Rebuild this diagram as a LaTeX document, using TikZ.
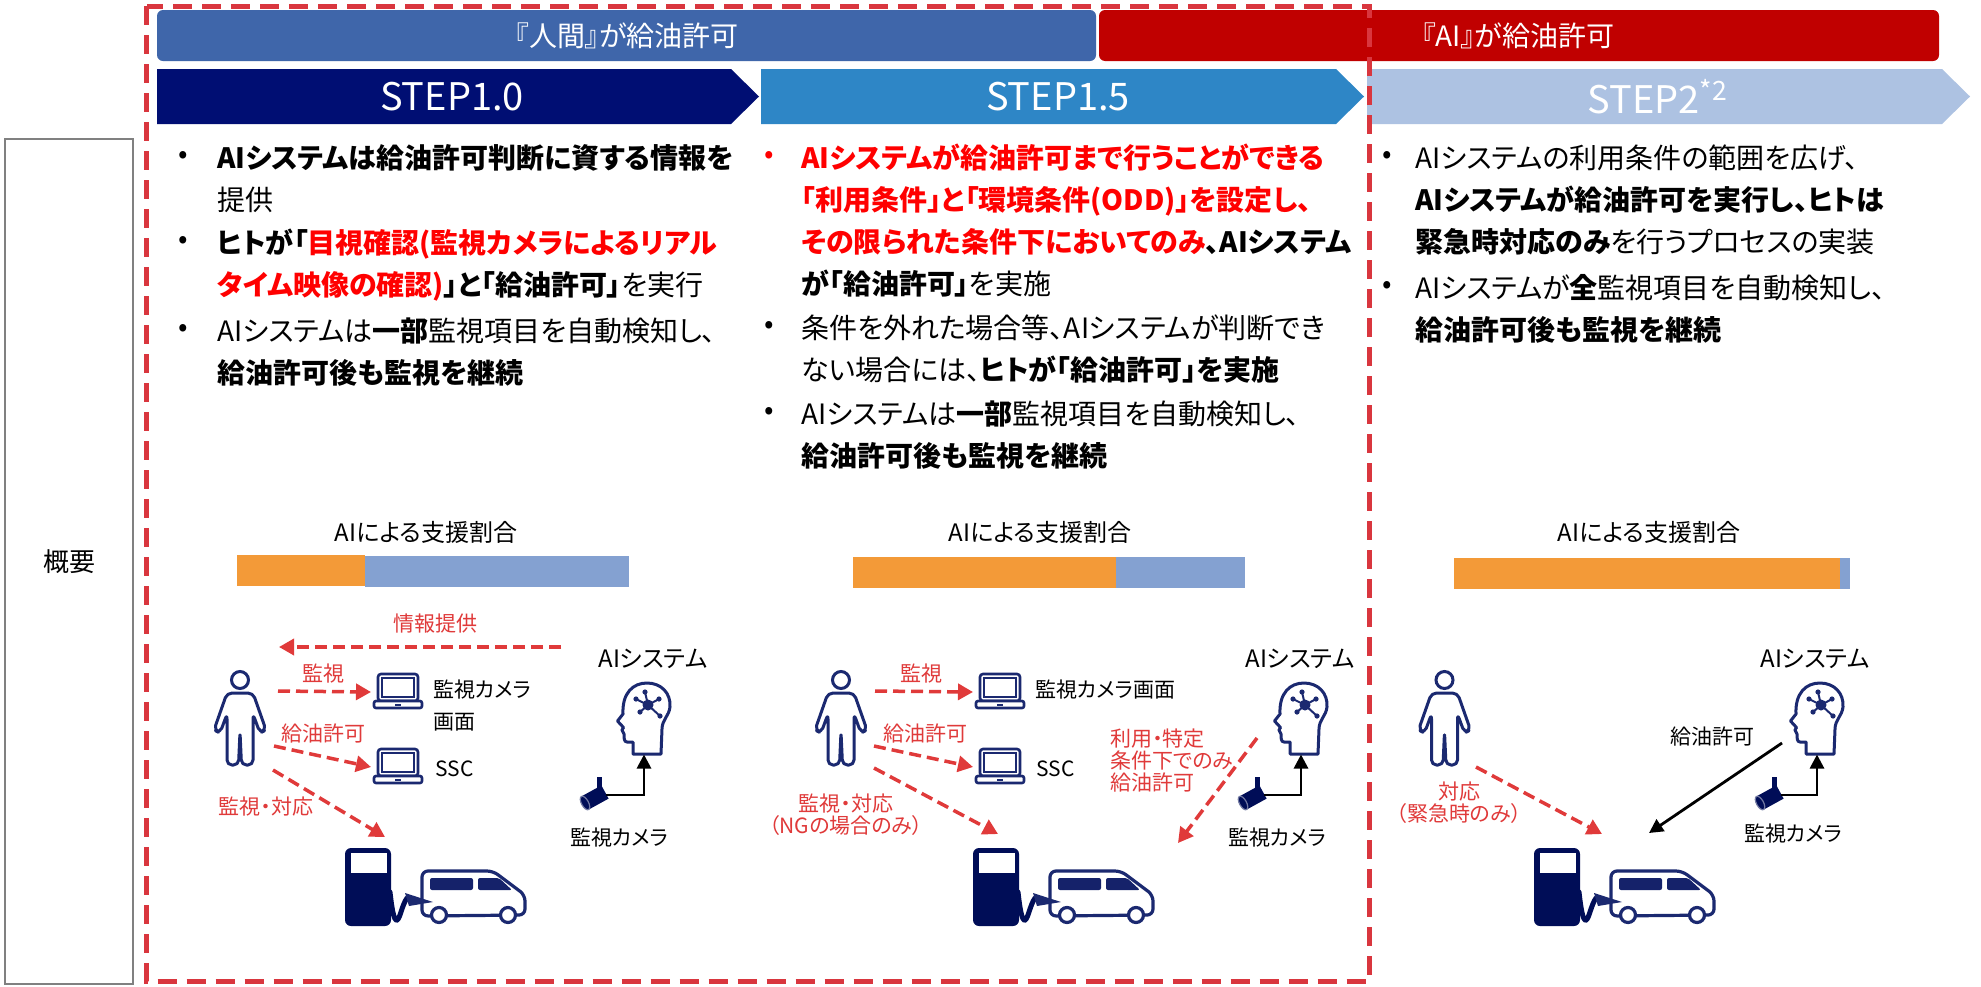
\documentclass[tikz,border=0pt]{standalone}
\usepackage{fontspec}
\setmainfont{Noto Sans CJK JP}[RawFeature=+palt]
\usetikzlibrary{arrows.meta}

\definecolor{frameRed}{HTML}{D9363E}
\definecolor{humanBlue}{HTML}{3F66AA}
\definecolor{aiRed}{HTML}{C00000}
\definecolor{stepA}{HTML}{000E73}
\definecolor{stepB}{HTML}{2E86C6}
\definecolor{stepC}{HTML}{ADC2E2}
\definecolor{barOrange}{HTML}{F39A38}
\definecolor{barBlue}{HTML}{84A1D1}
\definecolor{iconNavy}{HTML}{1B2970}
\definecolor{winNavy}{HTML}{15226A}
\definecolor{pumpNavy}{HTML}{000D57}
\definecolor{noteRed}{HTML}{E03A3A}
\definecolor{emRed}{HTML}{FF0000}
\definecolor{boxGrey}{HTML}{808080}

\tikzset{
  bannertext/.style={text=white, inner sep=0pt, font=\fontsize{14}{16}\selectfont},
  steptext/.style={text=white, inner sep=0pt, font=\fontsize{19}{22}\selectfont},
  bultext/.style={anchor=north west, inner sep=0pt, align=left, font=\fontsize{14}{21}\selectfont},
  bulletdot/.style={inner sep=0pt, font=\fontsize{14}{21}\selectfont},
  ratiolabel/.style={inner sep=0pt, font=\fontsize{12}{14}\selectfont},
  syslabel/.style={inner sep=0pt, font=\fontsize{12}{14}\selectfont},
  smalllabel/.style={inner sep=0pt, font=\fontsize{10.5}{12}\selectfont},
  redlabel/.style={inner sep=0pt, text=noteRed, font=\fontsize{10.5}{11}\selectfont},
  redarrow/.style={draw=noteRed, line width=1.75pt, dash pattern=on 6pt off 3pt,
    -{Triangle[length=7.5pt,width=8pt]}},
  blackarrow/.style={draw=black, line width=1.4pt, -{Triangle[length=7pt,width=7pt]}},
  % standing person, origin at top of head
  person/.pic={
    \draw[iconNavy, line width=1.5pt] (0,10) circle[radius=8.5];
    \draw[iconNavy, line width=1.5pt, rounded corners=2.5pt, line join=round]
      (0,23) -- (-13,23) -- (-26,60) -- (-20,63) -- (-13,44) -- (-13,95) -- (-1.5,95)
      -- (0,62) -- (1.5,95) -- (13,95) -- (13,44) -- (20,63) -- (26,60) -- (13,23) -- cycle;
  },
  % notebook computer, origin at top left
  laptop/.pic={
    \draw[iconNavy, line width=1.3pt, fill=white, rounded corners=1.5pt] (5,1) rectangle (45,28);
    \draw[iconNavy, line width=1.1pt] (9,5) rectangle (41,24);
    \draw[iconNavy, line width=1.3pt, fill=white, rounded corners=1pt] (1,28) rectangle (49,35);
    \fill[iconNavy] (22,30.5) rectangle (28,32.5);
    \coordinate (-w) at (-2,19);
  },
  % head in profile with a network inside, origin at top left
  aihead/.pic={
    \draw[iconNavy, line width=1.5pt, line join=round, fill=white]
      (16,71) -- (16,59) -- (10,59) .. controls (7,59) and (7,55) .. (7,51)
      -- (5,47) -- (6.5,44.5) -- (0.5,38) -- (6,31)
      .. controls (5,10) and (16,0) .. (30,0)
      .. controls (44,0) and (54,10) .. (53,24)
      .. controls (52,33) and (45,37) .. (45,46) -- (44,71) -- cycle;
    \foreach \a/\b in {19/16, 28/9, 42/16, 43/33, 23/29}{
      \draw[iconNavy, line width=1pt] (31,22) -- (\a,\b);
      \fill[iconNavy] (\a,\b) circle[radius=2.6];
    }
    \fill[iconNavy] (31,22) circle[radius=5.5];
    \coordinate (-in) at (27,71.5);
  },
  % surveillance camera, origin at top left
  camera/.pic={
    \fill[pumpNavy] (19,0) -- (24,0) -- (24,13) -- (19,13) -- cycle;
    \fill[pumpNavy] (3.4,19.4) -- (23.4,8.4) -- (30.6,21.6) -- (10.6,32.6) -- cycle;
    \draw[pumpNavy!55!white, line width=0.6pt, fill=pumpNavy, rotate around={28.8:(7,26)}]
      (7,26) ellipse [x radius=3.5, y radius=7.5];
    \coordinate (-out) at (28,18);
  },
  % fuel pump with hose and van, origin at top left of the pump
  station/.pic={
    \begin{scope}[shift={(74,20)}]
      \draw[iconNavy, line width=1.6pt, fill=white, rounded corners=3pt]
        (3,48) -- (3,3) -- (74,3) -- (106,27) -- (106,47) -- cycle;
      \fill[winNavy, rounded corners=1pt] (11,10) rectangle (54,22);
      \fill[winNavy, rounded corners=1pt] (59,10) -- (80,10) -- (93,22) -- (59,22) -- cycle;
      \draw[iconNavy, line width=1.6pt, fill=white] (20,47) circle[radius=7.5];
      \draw[iconNavy, line width=1.6pt, fill=white] (89,47) circle[radius=7.5];
    \end{scope}
    \fill[pumpNavy, rounded corners=3pt] (0,0) rectangle (46,78);
    \fill[white] (6,5) rectangle (42,25);
    \draw[pumpNavy, line width=2.5pt, line cap=round]
      (45,44) .. controls (47,62) and (49,73) .. (52,72) .. controls (55,71) and (57,57) .. (62,50);
    \fill[iconNavy] (60,45) -- (88,54) -- (64,58) -- cycle;
  },
}

\begin{document}
\begin{tikzpicture}[x=0.5pt, y=-0.5pt]
\useasboundingbox (0,0) rectangle (1981,986);
\fill[white] (0,0) rectangle (1981,986);

% row caption
\node[draw=boxGrey, line width=1pt, minimum width=64pt, minimum height=422.5pt,
      inner sep=0pt, font=\fontsize{13}{15}\selectfont] (ov) at (69,561.5) {概要};

% who grants the refuelling
\fill[humanBlue, rounded corners=3pt] (157,10) rectangle (1096,61);
\node[bannertext] (hb) at (627,35.5) {『人間』が給油許可};
\fill[aiRed, rounded corners=3pt] (1099,10) rectangle (1939,61);
\node[bannertext] (ab) at (1518,35.5) {『AI』が給油許可};

% step chevrons
\fill[stepA] (157,69) -- (731,69) -- (759,96.5) -- (731,124) -- (157,124) -- cycle;
\node[steptext] (s1) at (452,96.5) {STEP1.0};
\fill[stepB] (761,69) -- (1336,69) -- (1364,96.5) -- (1336,124) -- (761,124) -- cycle;
\node[steptext] (s2) at (1058,96.5) {STEP1.5};
\fill[stepC] (1367,69) -- (1942,69) -- (1970,96.5) -- (1942,124) -- (1367,124) -- cycle;
\node[steptext] (s3) at (1658,96.5) {STEP2\textsuperscript{*2}};

% STEP1.0 description
\node[bulletdot] (d11) at (183,157) {•};
\node[bultext] (t11) at (217,144) {\textbf{AIシステムは給油許可判断に資する情報を}\\提供};
\node[bulletdot] (d12) at (183,242) {•};
\node[bultext] (t12) at (217,229) {\textbf{ヒトが「}\textbf{\color{emRed}目視確認(監視カメラによるリアル}\\\textbf{\color{emRed}タイム映像の確認)}\textbf{」と「給油許可」}を実行};
\node[bulletdot] (d13) at (183,330) {•};
\node[bultext] (t13) at (217,317) {AIシステムは\textbf{一部}監視項目を自動検知し、\\\textbf{給油許可後も監視を継続}};

% STEP1.5 description
\node[bulletdot, text=emRed] (d21) at (769,157) {•};
\node[bultext] (t21) at (801,144) {\textbf{\color{emRed}AIシステムが給油許可まで行うことができる}\\\textbf{\color{emRed}「利用条件」と「環境条件(ODD)」を設定し、}\\\textbf{\color{emRed}その限られた条件下においてのみ}\textbf{、AIシステム}\\\textbf{が「給油許可」}を実施};
\node[bulletdot] (d22) at (769,327) {•};
\node[bultext] (t22) at (801,314) {条件を外れた場合等、AIシステムが判断でき\\ない場合には、\textbf{ヒトが「給油許可」を実施}};
\node[bulletdot] (d23) at (769,413) {•};
\node[bultext] (t23) at (801,400) {AIシステムは\textbf{一部}監視項目を自動検知し、\\\textbf{給油許可後も監視を継続}};

% STEP2 description
\node[bulletdot] (d31) at (1387,157) {•};
\node[bultext] (t31) at (1415,144) {AIシステムの利用条件の範囲を広げ、\\\textbf{AIシステムが給油許可を実行し、ヒトは}\\\textbf{緊急時対応のみ}を行うプロセスの実装};
\node[bulletdot] (d32) at (1387,287) {•};
\node[bultext] (t32) at (1415,274) {AIシステムが\textbf{全}監視項目を自動検知し、\\\textbf{給油許可後も監視を継続}};

% share of support given by the AI
\node[ratiolabel] (r1) at (426,532) {AIによる支援割合};
\fill[barOrange] (237,555) rectangle (365,586);
\fill[barBlue] (365,556) rectangle (629,587);
\node[ratiolabel] (r2) at (1040,532) {AIによる支援割合};
\fill[barOrange] (853,557) rectangle (1116,588);
\fill[barBlue] (1116,557) rectangle (1245,588);
\node[ratiolabel] (r3) at (1649,532) {AIによる支援割合};
\fill[barOrange] (1454,558) rectangle (1840,589);
\fill[barBlue] (1840,558) rectangle (1850,589);

% ---------- STEP1.0 scene ----------
\pic (p1) at (240,670) {person};
\pic (l1a) at (373,673) {laptop};
\pic (l1b) at (373,748) {laptop};
\pic (h1) at (617,683) {aihead};
\pic (c1) at (578,777) {camera};
\pic (g1) at (345,848) {station};
\node[syslabel] (ai1) at (653,659) {AIシステム};
\node[smalllabel, anchor=west] (m1) at (433,690) {監視カメラ};
\node[smalllabel, anchor=west] (m1b) at (433,722) {画面};
\node[smalllabel, anchor=west] (ssc1) at (435,769) {SSC};
\node[smalllabel] (cl1) at (619,838) {監視カメラ};
\coordinate (i1s) at (561,647);
\coordinate (i1e) at (279,647);
\coordinate (a1s) at (278,691);
\coordinate (b1s) at (274,746);
\coordinate (v1s) at (273,770);
\coordinate (v1e) at (385,837);
\draw[redarrow] (i1s) -- (i1e);
\node[redlabel] (il1) at (435,624) {情報提供};
\draw[redarrow] (a1s) -- (l1a-w);
\node[redlabel] (al1) at (323,674) {監視};
\draw[redarrow] (b1s) -- (l1b-w);
\node[redlabel] (bl1) at (323,734) {給油許可};
\draw[redarrow] (v1s) -- (v1e);
\node[redlabel] (vl1) at (266,807) {監視・対応};
\draw[blackarrow] (c1-out) -| (h1-in);

% ---------- STEP1.5 scene ----------
\pic (p2) at (841,670) {person};
\pic (l2a) at (975,673) {laptop};
\pic (l2b) at (975,748) {laptop};
\pic (h2) at (1274,683) {aihead};
\pic (c2) at (1236,777) {camera};
\pic (g2) at (973,848) {station};
\node[syslabel] (ai2) at (1300,659) {AIシステム};
\node[smalllabel, anchor=west] (m2) at (1035,690) {監視カメラ画面};
\node[smalllabel, anchor=west] (ssc2) at (1036,769) {SSC};
\node[smalllabel] (cl2) at (1277,838) {監視カメラ};
\coordinate (a2s) at (875,691);
\coordinate (b2s) at (874,746);
\coordinate (v2s) at (874,768);
\coordinate (v2e) at (998,834);
\coordinate (u2s) at (1257,738);
\coordinate (u2e) at (1178,843);
\draw[redarrow] (a2s) -- (l2a-w);
\node[redlabel] (al2) at (921,674) {監視};
\draw[redarrow] (b2s) -- (l2b-w);
\node[redlabel] (bl2) at (925,734) {給油許可};
\draw[redarrow] (v2s) -- (v2e);
\node[redlabel, align=center] (vl2) at (846,815) {監視・対応\\（NGの場合のみ）};
\draw[redarrow] (u2s) -- (u2e);
\node[redlabel, align=left, anchor=north west] (ul2) at (1110,728) {利用・特定\\条件下でのみ\\給油許可};
\draw[blackarrow] (c2-out) -| (h2-in);

% ---------- STEP2 scene ----------
\pic (p3) at (1444.5,670) {person};
\pic (h3) at (1790,683) {aihead};
\pic (c3) at (1753,777) {camera};
\pic (g3) at (1534,848) {station};
\node[syslabel] (ai3) at (1815,659) {AIシステム};
\node[smalllabel] (cl3) at (1793,834) {監視カメラ};
\coordinate (v3s) at (1476,767);
\coordinate (v3e) at (1602,834);
\coordinate (k3s) at (1782,743);
\coordinate (k3e) at (1649,833);
\draw[redarrow] (v3s) -- (v3e);
\node[redlabel, align=center] (vl3) at (1459,803) {対応\\（緊急時のみ）};
\draw[blackarrow] (k3s) -- (k3e);
\node[smalllabel] (kl3) at (1712,737) {給油許可};
\draw[blackarrow] (c3-out) -| (h3-in);

% scope of the human-granted steps
\draw[frameRed, line width=2.5pt, dash pattern=on 9.5pt off 5pt] (146.5,6) rectangle (1369,981);
\end{tikzpicture}
\end{document}
